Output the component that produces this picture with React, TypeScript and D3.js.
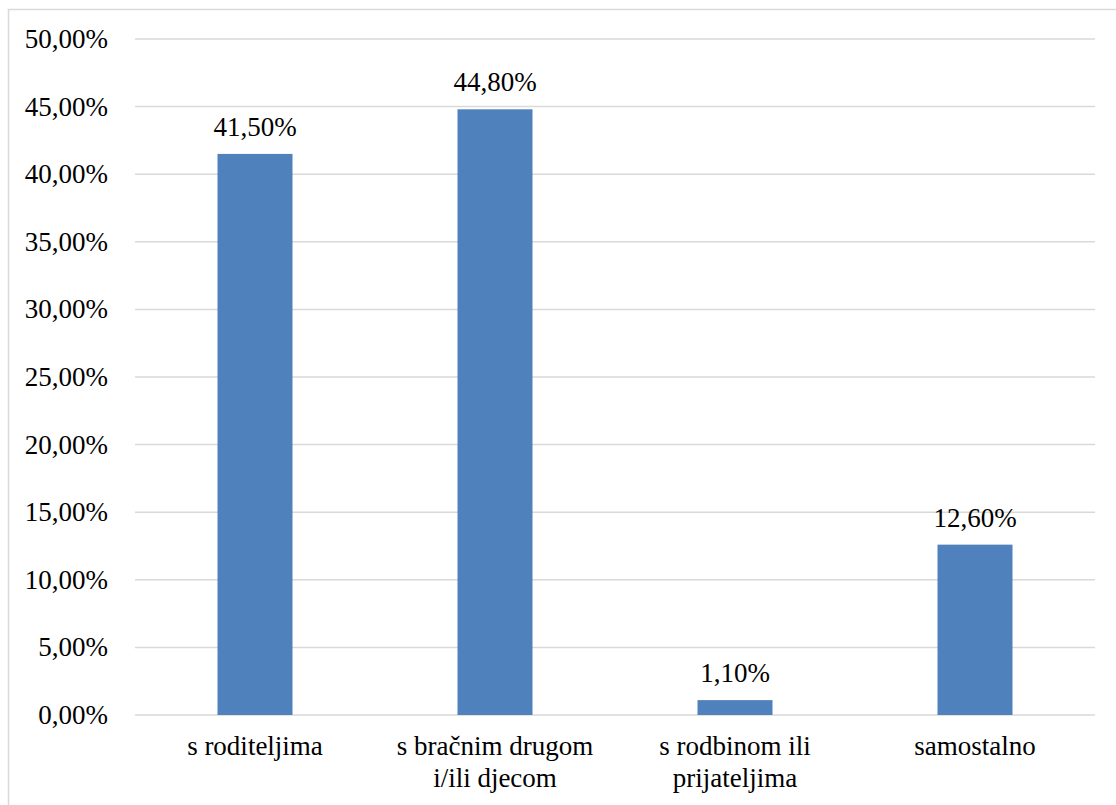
import React, { useEffect, useRef } from "react";
import * as d3 from "d3";

const categories: string[][] = [
  ["s roditeljima"],
  ["s bračnim drugom", "i/ili djecom"],
  ["s rodbinom ili", "prijateljima"],
  ["samostalno"],
];
const values: number[] = [41.5, 44.8, 1.1, 12.6];
const yTicks: number[] = [0, 5, 10, 15, 20, 25, 30, 35, 40, 45, 50];

const fmt = (v: number) => v.toFixed(2).replace(".", ",") + "%";

export default function App() {
  const ref = useRef<SVGSVGElement | null>(null);

  useEffect(() => {
    const W = 1116;
    const H = 805;
    const left = 135;
    const right = 1095;
    const top = 39;
    const bottom = 715;
    const FONT = '"Liberation Serif", "Times New Roman", Times, serif';

    const svg = d3.select(ref.current);
    svg.selectAll("*").remove();
    svg.attr("width", W).attr("height", H);

    const keys = categories.map((c) => c.join(" "));
    const x = d3
      .scaleBand<string>()
      .domain(keys)
      .range([left, right])
      .paddingInner(0.6875)
      .paddingOuter(0.34375);
    const y = d3.scaleLinear().domain([0, 50]).range([bottom, top]);

    svg
      .append("rect")
      .attr("x", 8.5)
      .attr("y", 9.5)
      .attr("width", 1120)
      .attr("height", 820)
      .attr("fill", "#fff")
      .attr("stroke", "#D9D9D9")
      .attr("stroke-width", 1.5);

    svg
      .selectAll("line.grid")
      .data(yTicks)
      .join("line")
      .attr("class", "grid")
      .attr("x1", left)
      .attr("x2", right)
      .attr("y1", (d) => y(d))
      .attr("y2", (d) => y(d))
      .attr("stroke", "#D9D9D9")
      .attr("stroke-width", 1.5);

    svg
      .selectAll("rect.bar")
      .data(values)
      .join("rect")
      .attr("class", "bar")
      .attr("x", (_, i) => x(keys[i])!)
      .attr("y", (d) => y(d))
      .attr("width", x.bandwidth())
      .attr("height", (d) => y(0) - y(d))
      .attr("fill", "#4F81BD");

    svg
      .selectAll("text.ytick")
      .data(yTicks)
      .join("text")
      .attr("class", "ytick")
      .attr("x", 108)
      .attr("y", (d) => y(d) + 9)
      .attr("text-anchor", "end")
      .text((d) => fmt(d));

    svg
      .selectAll("text.val")
      .data(values)
      .join("text")
      .attr("class", "val")
      .attr("x", (_, i) => x(keys[i])! + x.bandwidth() / 2)
      .attr("y", (d) => y(d) - 18)
      .attr("text-anchor", "middle")
      .text((d) => fmt(d));

    const labelData: { x: number; y: number; s: string }[] = [];
    categories.forEach((lines, i) =>
      lines.forEach((l, j) =>
        labelData.push({ x: x(keys[i])! + x.bandwidth() / 2, y: 755 + j * 32, s: l })
      )
    );
    svg
      .selectAll("text.cat")
      .data(labelData)
      .join("text")
      .attr("class", "cat")
      .attr("x", (d) => d.x)
      .attr("y", (d) => d.y)
      .attr("text-anchor", "middle")
      .text((d) => d.s);

    svg
      .selectAll("text")
      .attr("fill", "#000")
      .attr("font-family", FONT)
      .style("font-family", FONT)
      .style("font-size", "27px");
  }, []);

  return (
    <svg
      ref={ref}
      width={1116}
      height={805}
      style={{ position: "absolute", left: 0, top: 0, fontFamily: '"Liberation Serif", serif' }}
    />
  );
}
